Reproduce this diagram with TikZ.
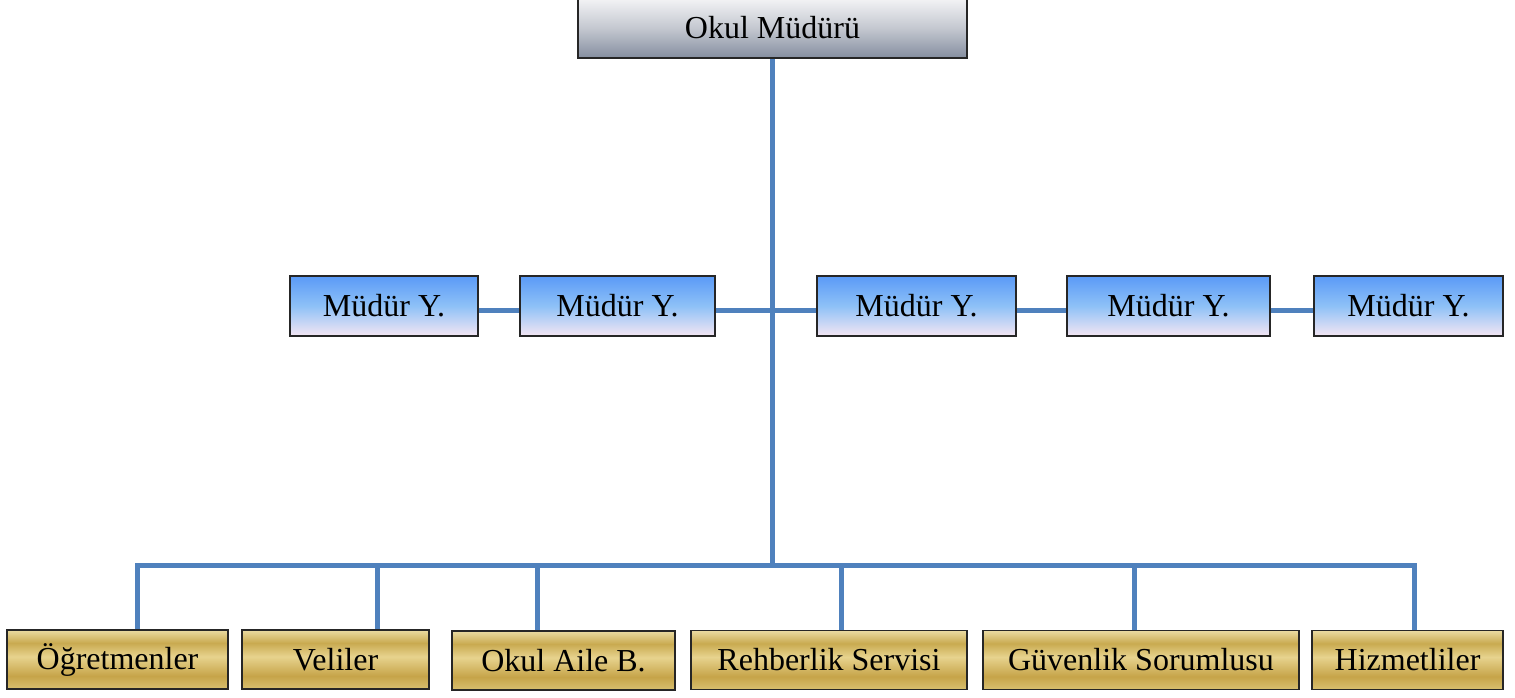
\documentclass[tikz,border=0pt]{standalone}
\usepackage{fontspec}
\setmainfont{Liberation Serif}
\definecolor{linkblue}{HTML}{4F81BD}
\definecolor{g0}{HTML}{EADBA2}
\definecolor{g1}{HTML}{C9AA50}
\definecolor{g2}{HTML}{E7D38E}
\definecolor{g3}{HTML}{C6A449}
\definecolor{g4}{HTML}{D8C070}
\definecolor{b0}{HTML}{5A9AF7}
\definecolor{b1}{HTML}{8EC1F7}
\definecolor{b2}{HTML}{F4E6F3}
\definecolor{s0}{HTML}{F4F4F6}
\definecolor{s1}{HTML}{C4C8D0}
\definecolor{s2}{HTML}{858EA0}
\pgfdeclareverticalshading{goldshade}{100bp}{color(0bp)=(g4); color(25bp)=(g4); color(36bp)=(g3); color(52.5bp)=(g2); color(64bp)=(g1); color(75bp)=(g0); color(100bp)=(g0)}
\pgfdeclareverticalshading{blueshade}{100bp}{color(0bp)=(b2); color(25bp)=(b2); color(50bp)=(b1); color(75bp)=(b0); color(100bp)=(b0)}
\pgfdeclareverticalshading{silvershade}{100bp}{color(0bp)=(s2); color(25bp)=(s2); color(50bp)=(s1); color(75bp)=(s0); color(100bp)=(s0)}
\tikzset{
  box/.style={draw=black!85, line width=1.4pt, inner sep=0pt, font=\fontsize{32}{36}\selectfont, text=black},
  headbox/.style={box, shading=silvershade, line width=1.8pt, minimum height=60pt},
  deputybox/.style={box, shading=blueshade, minimum height=60pt},
  unitbox/.style={box, shading=goldshade, minimum height=59pt},
  link/.style={draw=linkblue, line width=5pt}
}
\begin{document}
\begin{tikzpicture}[x=1pt,y=-1pt]
\useasboundingbox (0,0) rectangle (1515,697);
\coordinate (k1) at (137,565);
\coordinate (k2) at (377,565);
\coordinate (k3) at (537,565);
\coordinate (k4) at (841,565);
\coordinate (k5) at (1134,565);
\coordinate (k6) at (1414,565);

\node[headbox, minimum width=389pt] (head) at (772.5,28) {Okul Müdürü};

\node[deputybox, minimum width=188pt] (m1) at (384,306) {Müdür Y.};
\node[deputybox, minimum width=195pt] (m2) at (617.5,306) {Müdür Y.};
\node[deputybox, minimum width=199pt] (m3) at (916.5,306) {Müdür Y.};
\node[deputybox, minimum width=203pt] (m4) at (1168.5,306) {Müdür Y.};
\node[deputybox, minimum width=189pt] (m5) at (1408.5,306) {Müdür Y.};

\node[unitbox, minimum width=221pt] (u1) at (117.5,659.5) {Öğretmenler};
\node[unitbox, minimum width=187pt] (u2) at (335.5,659.5) {Veliler};
\node[unitbox, minimum width=223pt] (u3) at (563.5,660.5) {Okul Aile B.};
\node[unitbox, minimum width=276pt] (u4) at (829,660) {Rehberlik Servisi};
\node[unitbox, minimum width=316pt] (u5) at (1141,660) {Güvenlik Sorumlusu};
\node[unitbox, minimum width=191pt] (u6) at (1407.5,660) {Hizmetliler};

\path[link] (head.south) -- (head.south |- k1);
\path[link] ([yshift=-4pt]m1.east) -- ([yshift=-4pt]m2.west);
\path[link] ([yshift=-4pt]m2.east) -- ([yshift=-4pt]m3.west);
\path[link] ([yshift=-4pt]m3.east) -- ([yshift=-4pt]m4.west);
\path[link] ([yshift=-4pt]m4.east) -- ([yshift=-4pt]m5.west);
\path[link] (k1 |- u1.north) -- (k1) -- (k6) -- (k6 |- u6.north);
\path[link] (k2) -- (k2 |- u2.north);
\path[link] (k3) -- (k3 |- u3.north);
\path[link] (k4) -- (k4 |- u4.north);
\path[link] (k5) -- (k5 |- u5.north);
\end{tikzpicture}
\end{document}
